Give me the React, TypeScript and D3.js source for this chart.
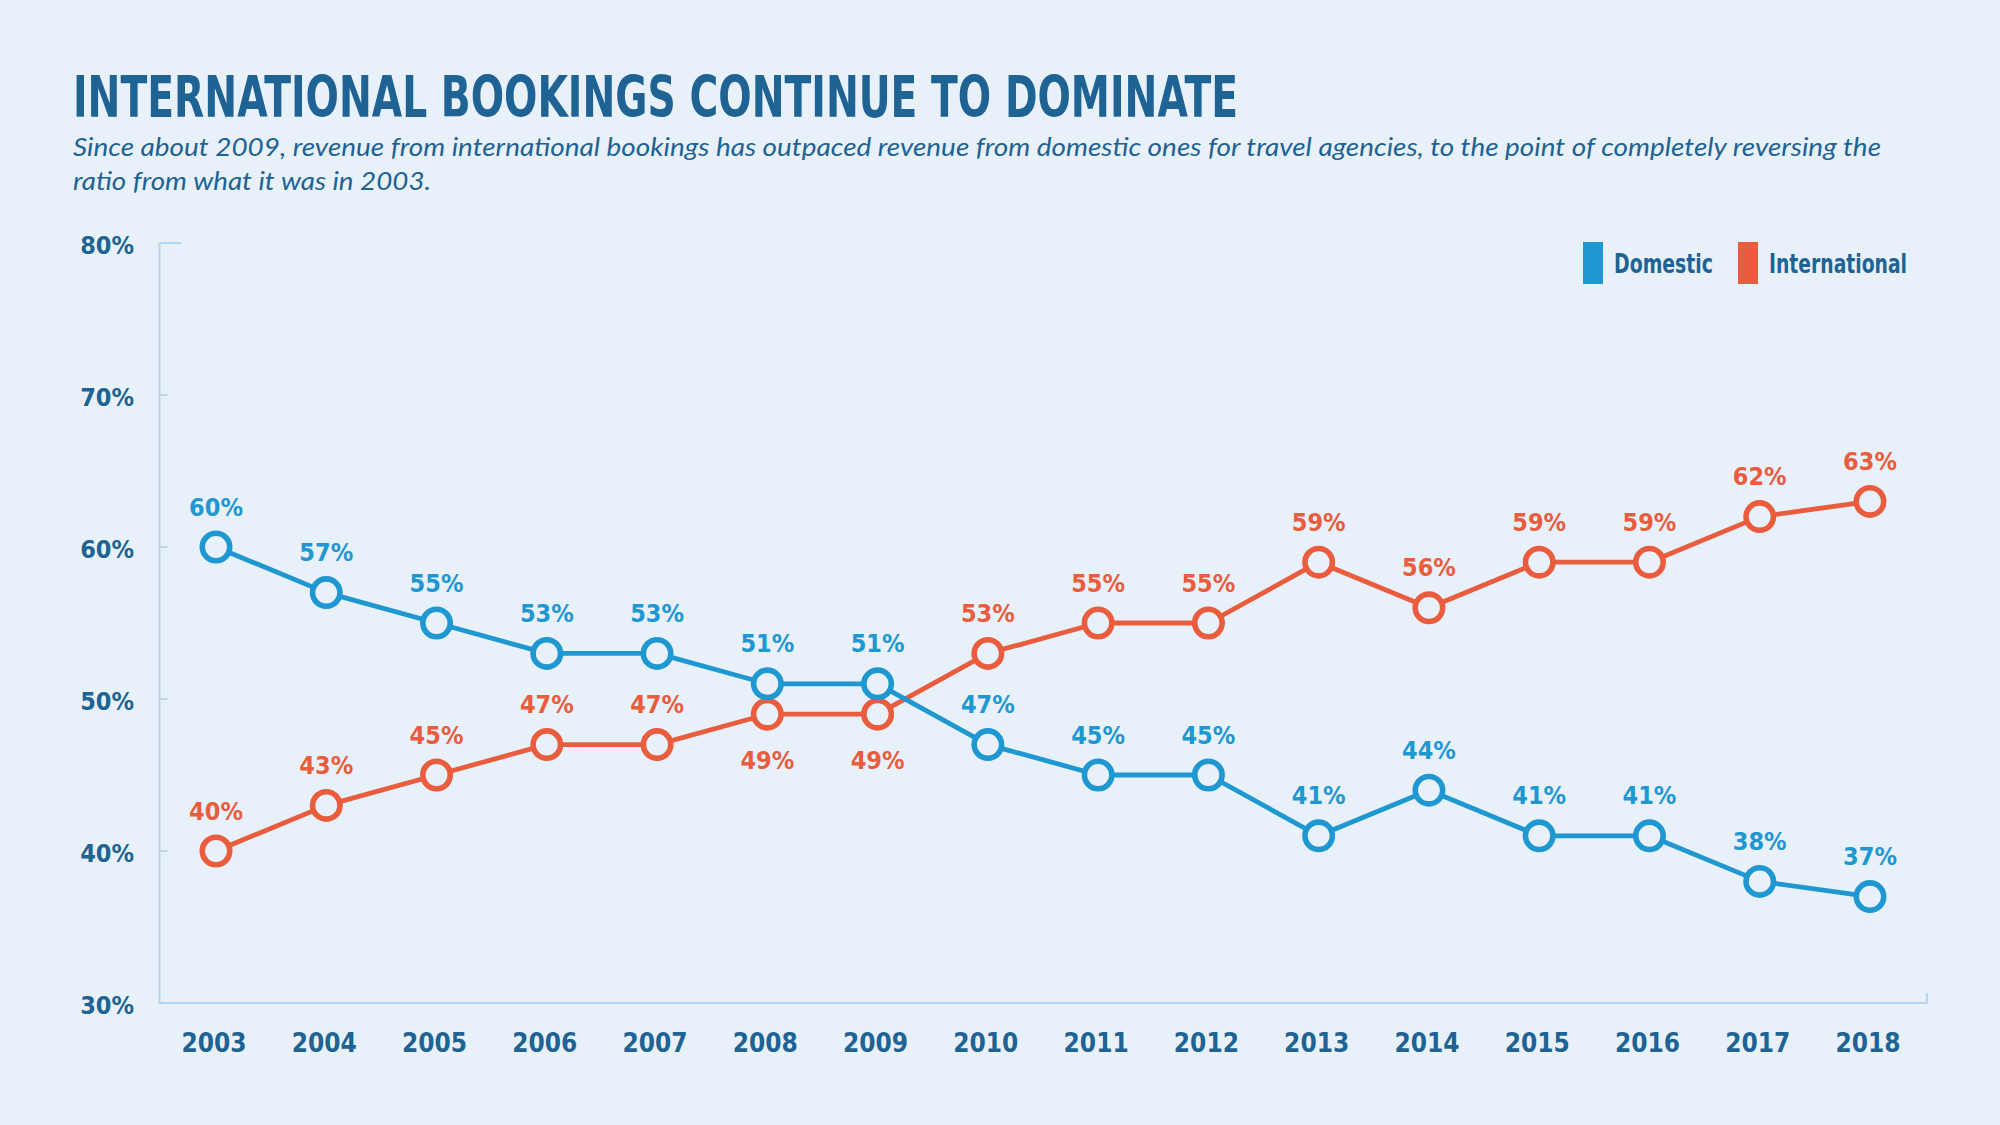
import * as d3 from "d3";
import { useEffect, useRef } from "react";

const years = ["2003", "2004", "2005", "2006", "2007", "2008", "2009", "2010", "2011", "2012", "2013", "2014", "2015", "2016", "2017", "2018"];
const domestic = [60, 57, 55, 53, 53, 51, 51, 47, 45, 45, 41, 44, 41, 41, 38, 37];
const international = [40, 43, 45, 47, 47, 49, 49, 53, 55, 55, 59, 56, 59, 59, 62, 63];
const yTicks = [30, 40, 50, 60, 70, 80];
const seriesNames = ["Domestic", "International"];

const title = "INTERNATIONAL BOOKINGS CONTINUE TO DOMINATE";
const subtitle = [
  "Since about 2009, revenue from international bookings has outpaced revenue from domestic ones for travel agencies, to the point of completely reversing the",
  "ratio from what it was in 2003.",
];

const BG = "#e8f1f9";
const DARK = "#1e6393";
const BLUE = "#1f97d0";
const RED = "#e95c3d";
const AXIS = "#b5d6f0";
const COND = '"Liberation Sans Narrow", "DejaVu Sans Condensed", "Arial Narrow", sans-serif';

export default function App() {
  const ref = useRef<SVGSVGElement>(null);

  useEffect(() => {
    const svg = d3.select(ref.current);
    svg.selectAll("*").remove();

    const width = 2000;
    const height = 1125;
    svg.attr("width", width).attr("height", height);

    svg.append("rect").attr("width", width).attr("height", height).attr("fill", BG);

    // title + subtitle
    svg.append("text")
      .attr("x", 73).attr("y", 117)
      .attr("fill", DARK)
      .style("font-family", COND)
      .style("font-weight", 700)
      .style("font-size", "57px")
      .attr("textLength", 1165)
      .attr("lengthAdjust", "spacingAndGlyphs")
      .text(title);

    const subLens = [1808, 358];
    subtitle.forEach((line, i) => {
      svg.append("text")
        .attr("x", 73).attr("y", 156 + i * 34)
        .attr("fill", DARK)
        .style("font-family", "Lato, 'Open Sans', sans-serif")
        .style("font-style", "italic")
        .style("font-size", "26px")
        .attr("textLength", subLens[i])
        .attr("lengthAdjust", "spacingAndGlyphs")
        .text(line);
    });

    const x = d3.scalePoint<string>().domain(years).range([216, 1870]);
    const y = d3.scaleLinear().domain([30, 80]).range([1003, 243]);
    const x0 = 159.5;
    const xEnd = 1927;

    // axes
    const ax = svg.append("g").attr("stroke", AXIS).attr("stroke-width", 2).attr("fill", "none");
    ax.append("path").attr("d", `M${x0},${y(80)}V${y(30)}H${xEnd}V${y(30) - 10}`);
    ax.selectAll("line.tick")
      .data(yTicks.filter(d => d > 30))
      .join("line")
      .attr("class", "tick")
      .attr("x1", x0)
      .attr("x2", d => (d === 80 ? x0 + 22 : x0 + 8))
      .attr("y1", d => y(d))
      .attr("y2", d => y(d));

    svg.append("g").selectAll("text")
      .data(yTicks)
      .join("text")
      .attr("x", 134)
      .attr("y", d => y(d) + 2)
      .attr("text-anchor", "end")
      .attr("dominant-baseline", "central")
      .attr("fill", DARK)
      .style("font-family", COND)
      .style("font-weight", 700)
      .style("font-size", "25px")
      .text(d => `${d}%`);

    svg.append("g").selectAll("text")
      .data(years)
      .join("text")
      .attr("x", d => x(d)! - 2)
      .attr("y", 1052)
      .attr("text-anchor", "middle")
      .attr("fill", DARK)
      .style("font-family", COND)
      .style("font-weight", 700)
      .style("font-size", "26px")
      .text(d => d);

    // lines
    const line = d3.line<number>()
      .x((d, i) => x(years[i])!)
      .y(d => y(d));

    const series = [
      { name: "International", values: international, other: domestic, color: RED },
      { name: "Domestic", values: domestic, other: international, color: BLUE },
    ];

    series.forEach(s => {
      svg.append("path")
        .attr("d", line(s.values))
        .attr("fill", "none")
        .attr("stroke", s.color)
        .attr("stroke-width", 4.8)
        .attr("stroke-linejoin", "round");
    });

    series.forEach(s => {
      const g = svg.append("g");
      g.selectAll("circle")
        .data(s.values)
        .join("circle")
        .attr("cx", (d, i) => x(years[i])!)
        .attr("cy", d => y(d))
        .attr("r", 13.7)
        .attr("fill", BG)
        .attr("stroke", s.color)
        .attr("stroke-width", 5.6);
    });

    // labels sit above the point, unless the point sits just under the other series
    const below = (d: number, o: number) => d < o && o - d < 4;
    series.forEach(s => {
      svg.append("g").selectAll("text")
        .data(s.values)
        .join("text")
        .attr("x", (d, i) => x(years[i])!)
        .attr("y", (d, i) => (below(d, s.other[i]) ? y(d) + 46 : y(d) - 40))
        .attr("text-anchor", "middle")
        .attr("dominant-baseline", "central")
        .attr("fill", s.color)
        .style("font-family", COND)
        .style("font-weight", 700)
        .style("font-size", "25px")
        .text(d => `${d}%`);
    });

    // legend
    const legendColor = d3.scaleOrdinal<string>().domain(seriesNames).range([BLUE, RED]);
    const legendX = [1583, 1738];
    const legendLen = [99, 138];
    const legend = svg.append("g");
    seriesNames.forEach((name, i) => {
      legend.append("rect")
        .attr("x", legendX[i]).attr("y", 242)
        .attr("width", 20).attr("height", 42)
        .attr("fill", legendColor(name));
      legend.append("text")
        .attr("x", legendX[i] + 31).attr("y", 273)
        .attr("fill", DARK)
        .style("font-family", COND)
        .style("font-weight", 700)
        .style("font-size", "26px")
        .attr("textLength", legendLen[i])
        .attr("lengthAdjust", "spacingAndGlyphs")
        .text(name);
    });
  }, []);

  return <svg ref={ref} style={{ position: "absolute", left: 0, top: 0, display: "block" }}></svg>;
}
